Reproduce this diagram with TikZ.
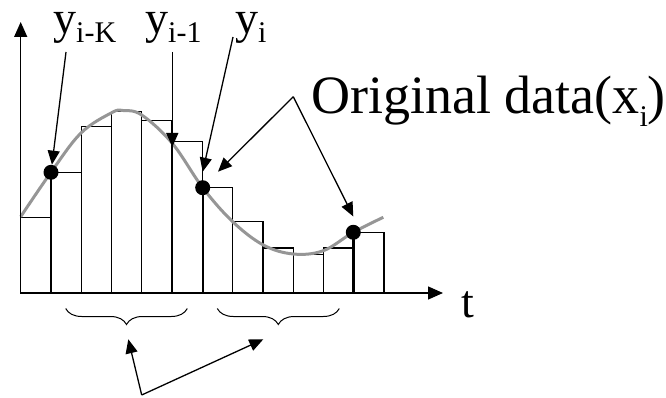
\documentclass[tikz,border=0pt]{standalone}
\usepackage{fontspec}
\setmainfont{Liberation Serif}
\usetikzlibrary{arrows.meta,decorations.pathreplacing}
\definecolor{curvegray}{RGB}{150,150,150}
\newcommand\lowsub[2]{\raisebox{-#1}{\fontsize{30}{30}\selectfont #2}}
\begin{document}
\begin{tikzpicture}[x=1pt,y=-1pt,
  bar/.style={draw=black,line width=1.3pt},
  ptr/.style={line width=1.3pt,-{Triangle[length=14pt,width=12pt]}},
  axis/.style={line width=1.4pt,-{Triangle[length=15pt,width=13pt]}},
  dot/.style={circle,fill=black,inner sep=0pt,minimum size=15pt},
  lbl/.style={inner sep=0pt,anchor=base west,font=\fontsize{46}{46}\selectfont},
  brc/.style={decorate,decoration={brace,mirror,amplitude=16pt},line width=1pt}
]
\useasboundingbox (0,0) rectangle (666,398);
% bars
\foreach \i/\h in {0/217.3,1/172.3,2/126.7,3/111.7,4/120.7,5/141.7,6/187.7,7/221.7,8/248,9/254.3,10/248,11/232.3}
  \draw[bar] ({20.7+30.28*\i},293) rectangle ({20.7+30.28*(\i+1)},\h);
% curve
\draw[curvegray,line width=3pt] plot[smooth,tension=0.6] coordinates
  {(20.7,216.7) (51,172.3) (81,133) (111.7,112.7) (123,110.5) (141.7,115) (172.3,143.3)
   (202.7,187.7) (232.7,221.7) (263.3,245) (293.3,254) (323.3,250.7) (353.3,232.3) (383.3,217.3)};
% sample points
\node[dot] (dA) at (51,172.3) {};
\node[dot] (dB) at (202.7,187.7) {};
\node[dot] (dC) at (353.3,232.3) {};
\coordinate (bA) at (51,293);
\coordinate (bB) at (202.7,293);
\coordinate (bC) at (353.3,293);
\draw[line width=2.4pt] (bA) -- (dA.center);
\draw[line width=2.4pt] (bB) -- (dB.center);
\draw[line width=2.4pt] (bC) -- (dC.center);
% axes
\coordinate (O) at (20.7,293);
\coordinate (ytip) at (20.7,22);
\coordinate (xtip) at (443,293);
\draw[axis] (O) -- (ytip);
\draw[axis] (O) -- (xtip);
\node[lbl] (tl) at (461,317) {t};
% labels
\node[lbl] (yk) at (53,34) {y\lowsub{9pt}{i-K}};
\node[lbl] (yk1) at (145,34) {y\lowsub{9pt}{i-1}};
\node[lbl] (yi) at (235,34) {y\lowsub{9pt}{i}};
\coordinate (sA) at (66,52);
\coordinate (sB) at (172.3,52);
\coordinate (tB) at (172.3,147);
\coordinate (sC) at (233,37);
\coordinate (tC) at (202.7,171.7);
\draw[ptr] (sA) -- (dA);
\draw[ptr] (sB) -- (tB);
\draw[ptr] (sC) -- (tC);
% original data
\node[inner sep=0pt,anchor=base west,font=\fontsize{54}{54}\selectfont] (orig) at (311,114)
  {Original data(x\lowsub{13pt}{i})};
\coordinate (apO) at (293.3,96.7);
\coordinate (tO1) at (218,171.7);
\coordinate (tO2) at (353.3,216.5);
\draw[ptr] (apO) -- (tO1);
\draw[ptr] (apO) -- (tO2);
% braces
\coordinate (b1l) at (65.7,308.5);
\coordinate (b1r) at (187.3,308.5);
\coordinate (b2l) at (217.3,308.5);
\coordinate (b2r) at (339.3,308.5);
\draw[brc] (b1l) -- (b1r);
\draw[brc] (b2l) -- (b2r);
\coordinate (apB) at (141.7,395);
\coordinate (tB1) at (128.3,339.3);
\coordinate (tB2) at (263.3,339.3);
\draw[ptr] (apB) -- (tB1);
\draw[ptr] (apB) -- (tB2);
\end{tikzpicture}
\end{document}
